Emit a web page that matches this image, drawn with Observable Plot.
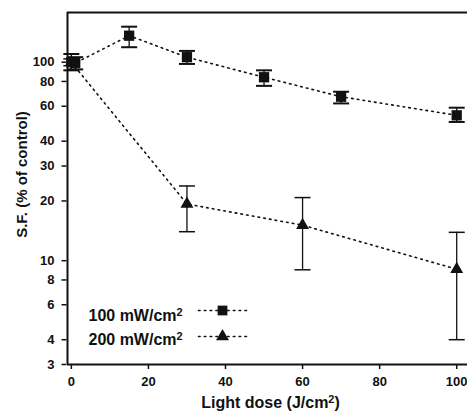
<!DOCTYPE html>
<html><head><meta charset="utf-8">
<script src="https://cdn.jsdelivr.net/npm/d3@7"></script>
<script src="https://cdn.jsdelivr.net/npm/@observablehq/plot@0.6"></script>
<style>body{margin:0;background:#fff}</style>
</head><body><div id="chart"></div>
<script>
// Data
const dose100 = [0, 1, 15, 30, 50, 70, 100];
const sf100   = [100, 99, 136, 106, 84, 67, 54];
const lo100   = [91, 92, 119, 98, 76, 62, 50];
const hi100   = [110, 106, 151, 114, 91, 71, 59];
const dose200 = [0, 30, 60, 100];
const sf200   = [100, 19.3, 15.1, 9.06];
const lo200   = [96, 14.0, 9.0, 4.0];
const hi200   = [104, 23.8, 20.8, 13.9];
const seriesNames = ["100 mW/cm²", "200 mW/cm²"];
const xTicks = [0, 20, 40, 60, 80, 100];
const yTicks = [3, 4, 6, 8, 10, 20, 30, 40, 60, 80, 100];
const xDomain = [-1, 102.8];
const yDomain = [3, 178];
const xTitle = "Light dose (J/cm²)";
const yTitle = "S.F. (% of control)";

const rows100 = dose100.map((d, i) => ({dose: d, sf: sf100[i], lo: lo100[i], hi: hi100[i]}));
const rows200 = dose200.map((d, i) => ({dose: d, sf: sf200[i], lo: lo200[i], hi: hi200[i]}));

const ink = "#111";
const capSymbol = {draw(ctx) { ctx.moveTo(-8, 0); ctx.lineTo(8, 0); }};
const legendLine = {draw(ctx) { ctx.moveTo(-24, 0); ctx.lineTo(24, 0); }};
const yTickSymbol = {draw(ctx) { ctx.moveTo(-5, 0); ctx.lineTo(0, 0); }};
const dotted = {stroke: ink, strokeWidth: 1.6, strokeDasharray: "1.6,4.2", strokeLinecap: "round"};
const font = "Liberation Sans, Arial, Helvetica, sans-serif";

function errMarks(rows, w) {
  return [
    Plot.ruleX(rows, {x: "dose", y1: "lo", y2: "hi", stroke: ink, strokeWidth: 1.3}),
    Plot.dot(rows, {x: "dose", y: "lo", symbol: capSymbol, fill: "none", stroke: ink, strokeWidth: w}),
    Plot.dot(rows, {x: "dose", y: "hi", symbol: capSymbol, fill: "none", stroke: ink, strokeWidth: w})
  ];
}

const plot = Plot.plot({
  width: 467,
  height: 419,
  marginLeft: 67,
  marginRight: 0,
  marginTop: 12,
  marginBottom: 55,
  style: {fontFamily: font, fontSize: "13px", fontWeight: "bold", color: ink, background: "#fff"},
  x: {type: "linear", domain: xDomain, axis: null},
  y: {type: "log", domain: yDomain, axis: null},
  marks: [
    Plot.axisX(xTicks, {tickSize: 5, tickPadding: 7, tickFormat: d => String(d), label: null, strokeWidth: 1.5, fontWeight: "bold", fontSize: 13}),
    // y axis: ticks and labels drawn through the y scale
    Plot.dot(yTicks, {y: d => d, frameAnchor: "left", dx: -1, symbol: yTickSymbol, fill: "none", stroke: ink, strokeWidth: 1.5}),
    Plot.text(yTicks, {y: d => d, text: d => String(d), frameAnchor: "left", dx: -13, textAnchor: "end", lineAnchor: "middle", fontSize: 13, fontWeight: "bold", fill: ink}),
    Plot.ruleX([xDomain[0]], {stroke: ink, strokeWidth: 2}),
    Plot.ruleY([yDomain[0]], {stroke: ink, strokeWidth: 2}),
    Plot.ruleY([yDomain[1]], {stroke: ink, strokeWidth: 2}),
    Plot.line(rows100, {x: "dose", y: "sf", ...dotted}),
    Plot.line(rows200, {x: "dose", y: "sf", ...dotted}),
    ...errMarks(rows200, 1.5),
    ...errMarks(rows100, 2),
    Plot.dot(rows200, {x: "dose", y: "sf", symbol: "triangle", r: 4.8, fill: ink, stroke: "none"}),
    Plot.dot(rows100, {x: "dose", y: "sf", symbol: "square", r: 5.8, fill: ink, stroke: "none"}),
    // legend
    Plot.text([seriesNames[0]], {text: d => d, frameAnchor: "bottom-left", dx: 21, dy: -44, textAnchor: "start", lineAnchor: "bottom", fontSize: 16, fontWeight: "bold", fill: ink}),
    Plot.text([seriesNames[1]], {text: d => d, frameAnchor: "bottom-left", dx: 21, dy: -20, textAnchor: "start", lineAnchor: "bottom", fontSize: 16, fontWeight: "bold", fill: ink}),
    Plot.dot([seriesNames[0]], {frameAnchor: "bottom-left", dx: 155, dy: -54, symbol: legendLine, fill: "none", ...dotted}),
    Plot.dot([seriesNames[1]], {frameAnchor: "bottom-left", dx: 155, dy: -28, symbol: legendLine, fill: "none", ...dotted}),
    Plot.dot([seriesNames[0]], {frameAnchor: "bottom-left", dx: 155, dy: -54, symbol: "square", r: 5.5, fill: ink, stroke: "none"}),
    Plot.dot([seriesNames[1]], {frameAnchor: "bottom-left", dx: 155, dy: -28, symbol: "triangle", r: 4.8, fill: ink, stroke: "none"}),
    // axis titles
    Plot.text([xTitle], {text: d => d, frameAnchor: "bottom", dx: 3, dy: 43, textAnchor: "middle", lineAnchor: "bottom", fontSize: 16, fontWeight: "bold", fill: ink}),
    Plot.text([yTitle], {text: d => d, frameAnchor: "left", rotate: -90, dx: -41, dy: -14, textAnchor: "middle", lineAnchor: "bottom", fontSize: 15, fontWeight: "bold", fill: ink})
  ]
});

// render "²" as a raised superscript
d3.select(plot).selectAll("text").each(function () {
  const t = d3.select(this);
  const s = t.text();
  if (!s.includes("²")) return;
  const parts = s.split("²");
  t.text(null);
  parts.forEach((p, i) => {
    if (p) t.append("tspan").text(p);
    if (i < parts.length - 1) t.append("tspan").attr("font-size", "0.68em").attr("baseline-shift", "45%").text("2");
  });
});
document.getElementById("chart").append(plot);
</script>
</body></html>
